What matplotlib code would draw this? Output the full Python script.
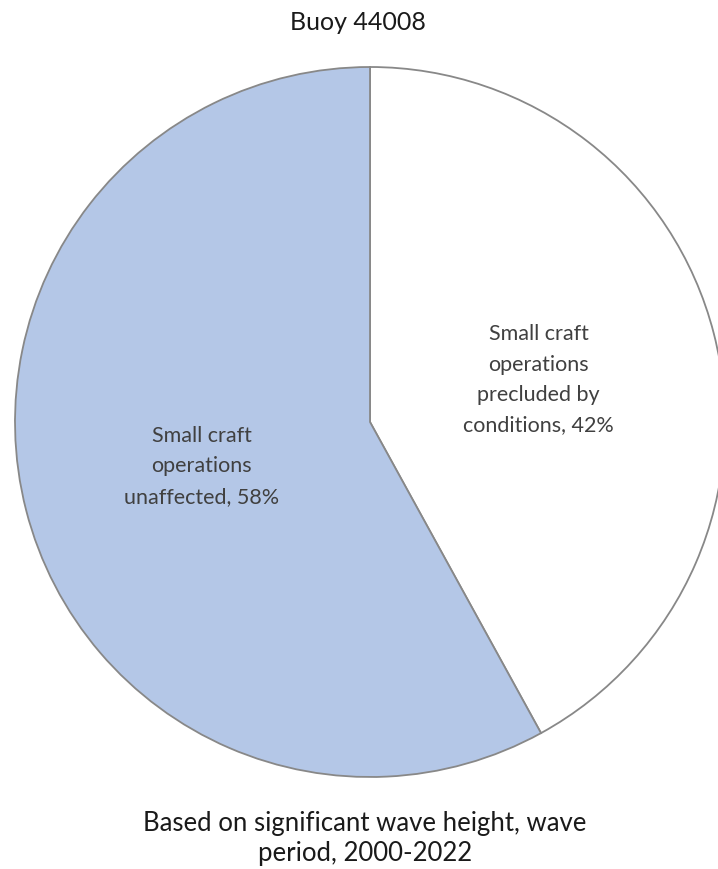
import matplotlib
matplotlib.use("Agg")
import matplotlib.pyplot as plt

# Share of time small craft operations are precluded / unaffected
categories = ["Small craft\noperations\nprecluded by\nconditions", "Small craft\noperations\nunaffected"]
shares = [42, 58]
colors = ["#FFFFFF", "#B4C7E7"]

title = "Buoy 44008"
footnote = "Based on significant wave height, wave\nperiod, 2000-2022"

W, H = 718, 870
fig = plt.figure(figsize=(W / 100, H / 100), dpi=100)
ax = fig.add_axes([0, 0, 1, 1])

labels = [f"{c}, {v}%" for c, v in zip(categories, shares)]

ax.pie(
    shares,
    labels=labels,
    colors=colors,
    startangle=90,
    counterclock=False,
    center=(370, H - 423),
    radius=355,
    labeldistance=0.49,
    wedgeprops=dict(edgecolor="#888888", linewidth=1.3),
    textprops=dict(ha="center", va="center", multialignment="center",
                   fontsize=15.5, color="#404040", family="Lato",
                   linespacing=1.65),
)
ax.set_xlim(0, W)
ax.set_ylim(0, H)
ax.set_aspect("equal")
ax.axis("off")

fig.text(358 / W, 1 - 22 / H, title, ha="center", va="center",
         fontsize=18, color="#1a1a1a", family="Lato")
fig.text(365 / W, 1 - 839 / H, footnote, ha="center", va="center",
         fontsize=18.5, color="#1a1a1a", family="Lato", linespacing=1.25)

fig.savefig("out.png", dpi=100)
